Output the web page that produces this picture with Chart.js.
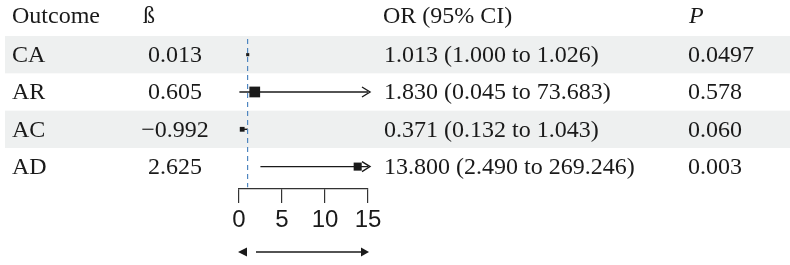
<!DOCTYPE html>
<html>
<head>
<meta charset="utf-8">
<script src="https://cdn.jsdelivr.net/npm/chart.js@4"></script>
<style>
  html, body { margin: 0; padding: 0; background: #fff; }
  #wrap { width: 790px; height: 265px; }
</style>
</head>
<body>
<div id="wrap"><canvas id="forest"></canvas></div>
<script>
// table data
var outcomes = ["CA", "AR", "AC", "AD"];
var betas = ["0.013", "0.605", "\u22120.992", "2.625"];
var orVal = [1.013, 1.830, 0.371, 13.800];
var ciLow = [1.000, 0.045, 0.132, 2.490];
var ciHigh = [1.026, 73.683, 1.043, 269.246];
var orText = ["1.013 (1.000 to 1.026)", "1.830 (0.045 to 73.683)", "0.371 (0.132 to 1.043)", "13.800 (2.490 to 269.246)"];
var pVals = ["0.0497", "0.578", "0.060", "0.003"];
var boxSize = [2.2, 7.6, 3.4, 5.7];
var xTicks = [0, 5, 10, 15];
var xMax = 15;

var serif = '24px "Liberation Serif", "Times New Roman", serif';
var ink = '#1a1a1a';

// one line per CI, capped at axis max (arrow added by plugin)
var ciSets = outcomes.map(function(o, i) {
    return {
        type: 'line',
        data: [{x: ciLow[i], y: i}, {x: Math.min(ciHigh[i], xMax), y: i}],
        borderColor: ink,
        borderWidth: 1.4,
        pointRadius: 0,
        clip: false
    };
});

var tablePlugin = {
    id: 'table',
    beforeDatasetsDraw: function(chart) {
        var ctx = chart.ctx;
        var y = chart.scales.y;
        ctx.save();
        ctx.fillStyle = '#eef0f0';
        for (var i = 0; i < outcomes.length; i += 2) {
            var top = y.getPixelForValue(i - 0.5);
            var bot = y.getPixelForValue(i + 0.5);
            ctx.fillRect(5, top, 790, bot - top);
        }
        ctx.restore();
    },
    afterDatasetsDraw: function(chart) {
        var ctx = chart.ctx;
        var x = chart.scales.x;
        var y = chart.scales.y;
        ctx.save();
        ctx.fillStyle = ink;
        ctx.strokeStyle = ink;
        ctx.textBaseline = 'alphabetic';
        ctx.font = serif;

        // header
        var hy = 23;
        ctx.textAlign = 'left';
        ctx.fillText('Outcome', 12, hy);
        ctx.fillText('\u00df', 143, hy);
        ctx.fillText('OR (95% CI)', 383, hy);
        ctx.font = 'italic ' + serif;
        ctx.fillText('P', 689, hy);
        ctx.font = serif;

        for (var i = 0; i < outcomes.length; i++) {
            var py = y.getPixelForValue(i) + 7.5;
            ctx.textAlign = 'left';
            ctx.fillText(outcomes[i], 12, py);
            ctx.textAlign = 'center';
            ctx.fillText(betas[i], 175, py);
            ctx.textAlign = 'left';
            ctx.fillText(orText[i], 384, py);
            ctx.fillText(pVals[i], 688, py);

            // open arrowhead for CIs past the axis
            if (ciHigh[i] > xMax) {
                var ax = x.getPixelForValue(xMax) + 2;
                var ay = y.getPixelForValue(i);
                ctx.lineWidth = 1.4;
                ctx.beginPath();
                ctx.moveTo(ax - 8, ay - 5);
                ctx.lineTo(ax, ay);
                ctx.lineTo(ax - 8, ay + 5);
                ctx.stroke();
            }
        }

        // double arrow under the axis
        var x0 = x.getPixelForValue(0);
        var x1 = x.getPixelForValue(xMax);
        var ay2 = 252;
        ctx.beginPath();
        ctx.moveTo(x0 - 1, ay2);
        ctx.lineTo(x0 + 8, ay2 - 4.5);
        ctx.lineTo(x0 + 8, ay2 + 4.5);
        ctx.closePath();
        ctx.fill();
        ctx.beginPath();
        ctx.moveTo(x1 + 1, ay2);
        ctx.lineTo(x1 - 7, ay2 - 4.5);
        ctx.lineTo(x1 - 7, ay2 + 4.5);
        ctx.closePath();
        ctx.fill();
        ctx.lineWidth = 1.4;
        ctx.beginPath();
        ctx.moveTo(x0 + 17, ay2);
        ctx.lineTo(x1 - 7, ay2);
        ctx.stroke();
        ctx.restore();
    }
};

var chart = new Chart(document.getElementById('forest'), {
    type: 'scatter',
    data: {
        datasets: [{
            type: 'line',
            data: [{x: 1, y: -0.42}, {x: 1, y: 3.55}],
            borderColor: '#4f86c0',
            borderWidth: 1.2,
            borderDash: [5, 4],
            pointRadius: 0
        }].concat(ciSets).concat([{
            type: 'scatter',
            data: orVal.map(function(v, i) { return {x: v, y: i}; }),
            pointStyle: 'rect',
            pointRadius: boxSize,
            backgroundColor: ink,
            borderColor: ink,
            borderWidth: 0,
            clip: false
        }])
    },
    options: {
        responsive: true,
        maintainAspectRatio: false,
        animation: false,
        events: [],
        layout: { padding: { top: 36, left: 239, right: 422, bottom: 0 } },
        plugins: { legend: { display: false }, tooltip: { enabled: false } },
        scales: {
            x: {
                type: 'linear',
                min: 0,
                max: xMax,
                afterBuildTicks: function(scale) {
                    scale.ticks = xTicks.map(function(v) { return {value: v}; });
                },
                afterFit: function(scale) { scale.height = 76; },
                border: { display: true, color: '#333', width: 1.2 },
                grid: { drawOnChartArea: false, drawTicks: true, tickLength: 14, color: '#333', lineWidth: 1.2 },
                ticks: {
                    color: ink,
                    padding: 3,
                    maxRotation: 0,
                    font: { family: '"Liberation Sans", Arial, sans-serif', size: 24 }
                }
            },
            y: {
                type: 'linear',
                reverse: true,
                min: -0.5,
                max: 3.6,
                display: false
            }
        }
    },
    plugins: [tablePlugin]
});
</script>
</body>
</html>
